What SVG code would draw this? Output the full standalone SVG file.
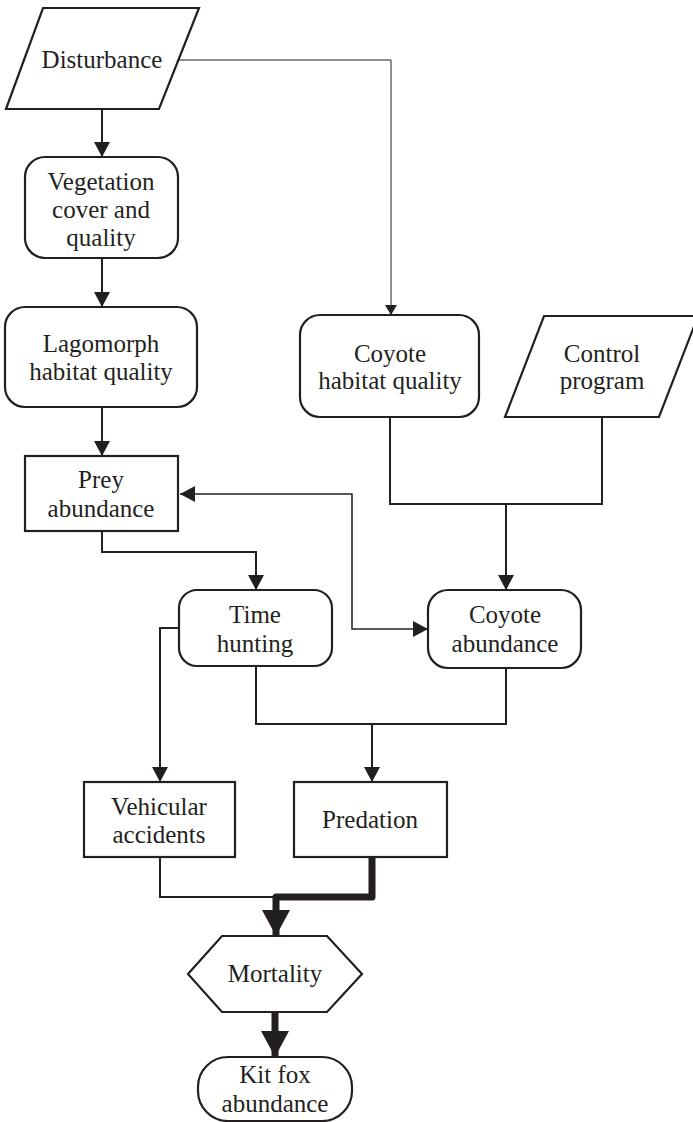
<svg xmlns="http://www.w3.org/2000/svg" width="693" height="1122" viewBox="0 0 693 1122">
<style>
.box{fill:#fff;stroke:#231f20;stroke-width:2.2}
.t{font-family:"Liberation Serif","Times New Roman",serif;font-size:25px;fill:#231f20;text-anchor:middle}
.c{fill:none;stroke:#231f20;stroke-width:2}
.thin{fill:none;stroke:#231f20;stroke-width:1}
.mid{fill:none;stroke:#231f20;stroke-width:1.5}
.thick{fill:none;stroke:#231f20;stroke-width:7;stroke-linejoin:round}
</style>
<defs>
<marker id="arr" viewBox="0 0 15 16" refX="15" refY="8" markerWidth="15" markerHeight="16" markerUnits="userSpaceOnUse" orient="auto-start-reverse"><path d="M0,0 L15,8 L0,16 z" fill="#231f20"/></marker>
<marker id="arrS" viewBox="0 0 10 12" refX="10" refY="6" markerWidth="10" markerHeight="12" markerUnits="userSpaceOnUse" orient="auto"><path d="M0,0 L10,6 L0,12 z" fill="#231f20"/></marker>
<marker id="arrT" viewBox="0 0 26 28" refX="26" refY="14" markerWidth="26" markerHeight="28" markerUnits="userSpaceOnUse" orient="auto"><path d="M0,0 L26,14 L0,28 z" fill="#231f20"/></marker>
</defs>
<g id="connectors">
<path class="c" d="M102,109 V157" marker-end="url(#arr)"/>
<path class="c" d="M102,258 V307" marker-end="url(#arr)"/>
<path class="c" d="M102,407 V456" marker-end="url(#arr)"/>
<path class="thin" d="M176,60 H391 V315" marker-end="url(#arrS)"/>
<path class="c" d="M102,531 V552 H256 V590" marker-end="url(#arr)"/>
<path class="c" d="M390,417 V504 H602 V417"/>
<path class="c" d="M506,504 V590" marker-end="url(#arr)"/>
<path class="mid" d="M180,494 H352 V629 H428" marker-start="url(#arr)" marker-end="url(#arr)"/>
<path class="c" d="M179,628 H160 V782" marker-end="url(#arr)"/>
<path class="c" d="M256,666 V724 H506 V668"/>
<path class="c" d="M372,724 V782" marker-end="url(#arr)"/>
<path class="c" d="M160,857 V897 H276"/>
<path class="thick" d="M372,857 V897 H276 V936" marker-end="url(#arrT)"/>
<path class="thick" d="M275,1012 V1057" marker-end="url(#arrT)"/>
</g>
<g id="disturbance">
<polygon class="box" points="43,8 199,8 159,109 6,109"/>
<text class="t" x="102" y="68">Disturbance</text>
</g>
<g id="vegetation">
<rect class="box" x="25" y="157" width="153" height="101" rx="20"/>
<text class="t" x="101" y="190">Vegetation</text>
<text class="t" x="101" y="218">cover and</text>
<text class="t" x="101" y="246">quality</text>
</g>
<g id="lagomorph">
<rect class="box" x="5" y="307" width="192" height="100" rx="20"/>
<text class="t" x="101" y="352">Lagomorph</text>
<text class="t" x="101" y="380">habitat quality</text>
</g>
<g id="coyote-habitat">
<rect class="box" x="300" y="315" width="179" height="102" rx="20"/>
<text class="t" x="390" y="362">Coyote</text>
<text class="t" x="390" y="389">habitat quality</text>
</g>
<g id="control">
<polygon class="box" points="544,316 698,316 659,417 505,417"/>
<text class="t" x="602" y="362">Control</text>
<text class="t" x="602" y="389">program</text>
</g>
<g id="prey">
<rect class="box" x="25" y="456" width="153" height="75"/>
<text class="t" x="101" y="488">Prey</text>
<text class="t" x="101" y="517">abundance</text>
</g>
<g id="time-hunting">
<rect class="box" x="179" y="590" width="153" height="76" rx="18"/>
<text class="t" x="255" y="623">Time</text>
<text class="t" x="255" y="652">hunting</text>
</g>
<g id="coyote-abundance">
<rect class="box" x="428" y="590" width="153" height="78" rx="20"/>
<text class="t" x="505" y="623">Coyote</text>
<text class="t" x="505" y="652">abundance</text>
</g>
<g id="vehicular">
<rect class="box" x="84" y="782" width="151" height="75"/>
<text class="t" x="159" y="815">Vehicular</text>
<text class="t" x="159" y="843">accidents</text>
</g>
<g id="predation">
<rect class="box" x="294" y="782" width="153" height="75"/>
<text class="t" x="370" y="828">Predation</text>
</g>
<g id="mortality">
<polygon class="box" points="188,974 222,936 327,936 362,974 327,1012 222,1012"/>
<text class="t" x="275" y="982">Mortality</text>
</g>
<g id="kitfox">
<rect class="box" x="198" y="1057" width="154" height="64" rx="30"/>
<text class="t" x="275" y="1083">Kit fox</text>
<text class="t" x="275" y="1112">abundance</text>
</g>
</svg>
